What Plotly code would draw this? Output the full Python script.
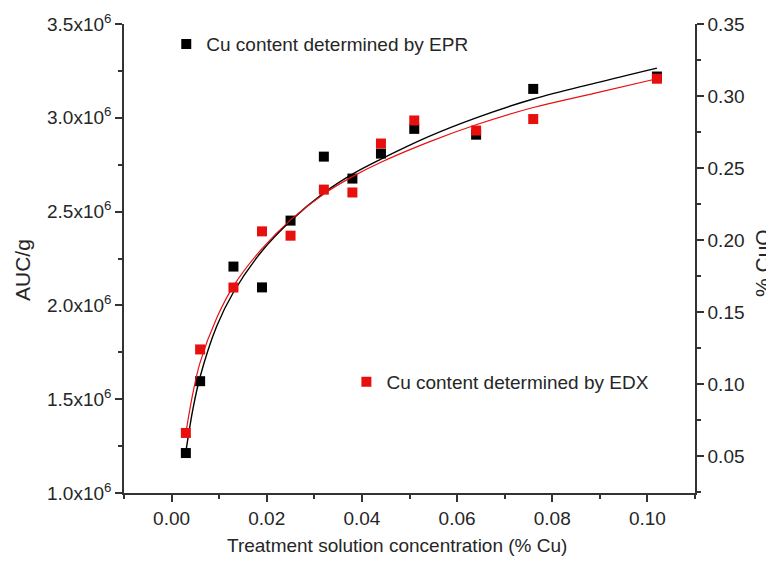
import plotly.graph_objects as go

# ---- data ----
conc = [0.003, 0.006, 0.013, 0.019, 0.025, 0.032, 0.038, 0.044, 0.051, 0.064, 0.076, 0.102]
auc_epr = [1.213e6, 1.596e6, 2.207e6, 2.096e6, 2.452e6, 2.793e6, 2.676e6, 2.809e6,
           2.941e6, 2.910e6, 3.154e6, 3.22e6]
cuo_edx = [0.066, 0.124, 0.167, 0.206, 0.203, 0.235, 0.233, 0.267, 0.283, 0.276, 0.284, 0.312]

# fitted curves
fit_x = [0.003, 0.0045, 0.006, 0.0095, 0.013, 0.019, 0.025, 0.032, 0.038, 0.044, 0.054,
         0.064, 0.076, 0.089, 0.102]
fit_y_epr = [1.22e6, 1.45e6, 1.62e6, 1.89e6, 2.07e6, 2.29e6, 2.45e6, 2.60e6, 2.70e6, 2.78e6,
             2.90e6, 3.00e6, 3.10e6, 3.185e6, 3.265e6]
fit_y_edx = [0.066, 0.094, 0.115, 0.146, 0.168, 0.194, 0.214, 0.232, 0.244, 0.254, 0.268,
             0.280, 0.292, 0.302, 0.312]

x_ticks = [0.00, 0.02, 0.04, 0.06, 0.08, 0.10]
y_ticks = [1.0e6, 1.5e6, 2.0e6, 2.5e6, 3.0e6, 3.5e6]
y_ticklabels = ["1.0x10<sup>6</sup>", "1.5x10<sup>6</sup>", "2.0x10<sup>6</sup>",
                "2.5x10<sup>6</sup>", "3.0x10<sup>6</sup>", "3.5x10<sup>6</sup>"]
y2_ticks = [0.05, 0.10, 0.15, 0.20, 0.25, 0.30, 0.35]

BLACK = "#000000"
RED = "#e8100f"
TXT = "#262626"
FONT = "Liberation Sans, Arial, sans-serif"

fig = go.Figure()
fig.add_trace(go.Scatter(x=fit_x, y=fit_y_epr, mode="lines", line=dict(color=BLACK, width=1.4, shape="spline"),
                         showlegend=False, hoverinfo="skip"))
fig.add_trace(go.Scatter(x=conc, y=auc_epr, mode="markers", name="Cu content determined by EPR",
                         marker=dict(symbol="square", size=10, color=BLACK), legend="legend"))
fig.add_trace(go.Scatter(x=fit_x, y=fit_y_edx, mode="lines", yaxis="y2",
                         line=dict(color=RED, width=1.2, shape="spline"),
                         showlegend=False, hoverinfo="skip"))
fig.add_trace(go.Scatter(x=conc, y=cuo_edx, mode="markers", yaxis="y2", name="Cu content determined by EDX",
                         marker=dict(symbol="square", size=10, color=RED), legend="legend2"))

axis_common = dict(showgrid=False, zeroline=False, showline=True, linecolor="#333333", linewidth=1.5,
                   ticks="outside", ticklen=7, tickwidth=1.5, tickcolor="#333333", automargin=False,
                   tickfont=dict(family=FONT, size=19, color=TXT))
minor_common = dict(ticks="outside", ticklen=4, tickwidth=1.5, tickcolor="#333333")

# the page body adds an 8px offset, so margins compensate for it
fig.update_layout(
    width=774, height=564,
    margin=dict(l=116, r=87, t=16, b=79),
    paper_bgcolor="white", plot_bgcolor="white",
    font=dict(family=FONT, color=TXT),
    xaxis=dict(range=[-0.01, 0.11], tickvals=x_ticks, tickformat=".2f",
               minor=dict(dtick=0.01, tick0=0, **minor_common), **axis_common),
    yaxis=dict(range=[1.0e6, 3.5e6], tickvals=y_ticks, ticktext=y_ticklabels,
               minor=dict(dtick=0.25e6, tick0=0, **minor_common), **axis_common),
    yaxis2=dict(range=[0.0243, 0.35], overlaying="y", side="right", tickvals=y2_ticks, tickformat=".2f",
                minor=dict(dtick=0.025, tick0=0, **minor_common), **axis_common),
    legend=dict(x=0.074, y=0.957, xanchor="left", yanchor="middle", bgcolor="rgba(0,0,0,0)",
                font=dict(family=FONT, size=19, color=TXT)),
    legend2=dict(x=0.3895, y=0.237, xanchor="left", yanchor="middle", bgcolor="rgba(0,0,0,0)",
                 font=dict(family=FONT, size=19, color=TXT)),
    annotations=[
        dict(text="Treatment solution concentration (% Cu)", xref="paper", yref="paper",
             x=0.478, y=-0.111, xanchor="center", yanchor="middle", showarrow=False,
             font=dict(family=FONT, size=19, color=TXT)),
        dict(text="AUC/g", xref="paper", yref="paper", x=-0.179, y=0.475, textangle=-90,
             xanchor="center", yanchor="middle", showarrow=False,
             font=dict(family=FONT, size=21, color=TXT)),
        dict(text="% CuO", xref="paper", yref="paper", x=1.117, y=0.49, textangle=-90,
             xanchor="center", yanchor="middle", showarrow=False,
             font=dict(family=FONT, size=21, color=TXT)),
    ],
)

fig.write_html("out.html")
